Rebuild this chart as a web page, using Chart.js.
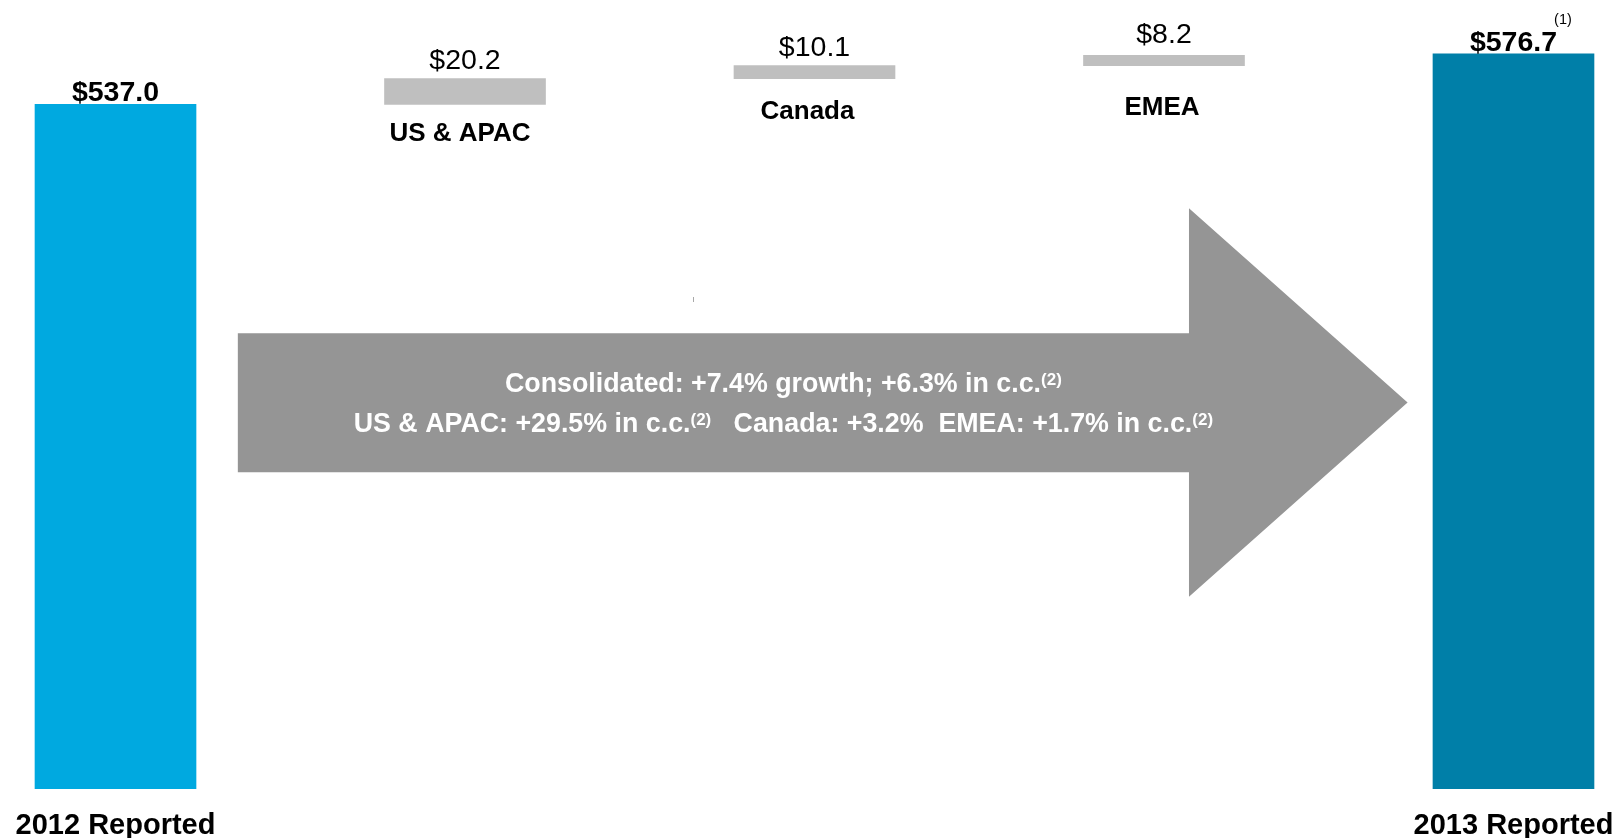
<!DOCTYPE html>
<html>
<head>
<meta charset="utf-8">
<title>Revenue bridge 2012 - 2013</title>
<script src="https://cdn.jsdelivr.net/npm/chart.js@4.4.1/dist/chart.umd.min.js"></script>
<style>
  html, body { margin: 0; padding: 0; background: #fff; }
  #wrap { width: 1619px; height: 838px; }
</style>
</head>
<body>
<div id="wrap"><canvas id="ponte"></canvas></div>
<script>
// Categorias da ponte de receita (milhões de US$)
const categorias = ["2012 Reported", "US & APAC", "Canada", "EMEA", "2013 Reported"];
const valores = [537.0, 20.2, 10.1, 8.2, 576.7];
const tipos = ["total", "passo", "passo", "passo", "total"];
const notaTotalFinal = "(1)";

// Texto dentro da seta: [trecho, sobrescrito?]
const linhaConsolidado = [["Consolidated: +7.4% growth; +6.3% in c.c.", false], ["(2)", true]];
const linhaRegioes = [
  ["US & APAC: +29.5% in c.c.", false], ["(2)", true],
  ["   Canada: +3.2%  EMEA: +1.7% in c.c.", false], ["(2)", true]
];

// Cores
const CORES = ["#00A9E0", "#BFBFBF", "#BFBFBF", "#BFBFBF", "#007FA8"];
const COR_SETA = "#959595";
const FONTE = '"Liberation Sans", Arial, Helvetica, sans-serif';

// Ajustes finos dos rótulos (px)
const folgaValor = [3, 10, 10, 12, 3];
const folgaCategoria = [0, 37, 40, 49, 0];
const deslocCategoria = [0, -5, -7, -2, 0];

// Geometria da seta em unidades dos eixos
const SETA = {
  cauda: 0.35, pescoco: 3.0715, ponta: 3.697,
  hasteTopo: 357.4, hasteBase: 248.4,
  cabecaTopo: 455.4, cabecaBase: 150.8,
  textoX: 1.911
};

// Barras flutuantes: cada passo começa onde o anterior terminou
let acumulado = 0;
const faixas = valores.map((v, i) => {
  if (tipos[i] === "total") { acumulado = v; return [0, v]; }
  const ini = acumulado;
  acumulado = +(acumulado + v).toFixed(1);
  return [ini, acumulado];
});

function desenharLinha(ctx, trechos, cx, base) {
  const fNormal = "bold 26.8px " + FONTE;
  const fSup = "bold 17px " + FONTE;
  let total = 0;
  trechos.forEach(([t, sup]) => {
    ctx.font = sup ? fSup : fNormal;
    total += ctx.measureText(t).width;
  });
  let x = cx - total / 2;
  trechos.forEach(([t, sup]) => {
    ctx.font = sup ? fSup : fNormal;
    ctx.fillText(t, x, sup ? base - 7 : base);
    x += ctx.measureText(t).width;
  });
}

const setaPlugin = {
  id: "seta",
  beforeDatasetsDraw(chart) {
    const { ctx, scales: { x, y } } = chart;
    const px = v => x.getPixelForValue(v);
    const py = v => y.getPixelForValue(v);
    ctx.save();
    ctx.fillStyle = COR_SETA;
    ctx.beginPath();
    ctx.moveTo(px(SETA.cauda), py(SETA.hasteTopo));
    ctx.lineTo(px(SETA.pescoco), py(SETA.hasteTopo));
    ctx.lineTo(px(SETA.pescoco), py(SETA.cabecaTopo));
    ctx.lineTo(px(SETA.ponta), (py(SETA.cabecaTopo) + py(SETA.cabecaBase)) / 2);
    ctx.lineTo(px(SETA.pescoco), py(SETA.cabecaBase));
    ctx.lineTo(px(SETA.pescoco), py(SETA.hasteBase));
    ctx.lineTo(px(SETA.cauda), py(SETA.hasteBase));
    ctx.closePath();
    ctx.fill();

    const cy = (py(SETA.hasteTopo) + py(SETA.hasteBase)) / 2;
    ctx.fillStyle = "#ffffff";
    ctx.textAlign = "left";
    ctx.textBaseline = "alphabetic";
    desenharLinha(ctx, linhaConsolidado, px(SETA.textoX), cy - 10.5);
    desenharLinha(ctx, linhaRegioes, px(SETA.textoX), cy + 29.5);

    // marcador de caixa de texto vazia acima da seta
    ctx.fillStyle = "#a8a8a8";
    ctx.fillRect(693, 297, 1, 5);
    ctx.restore();
  }
};

const rotulosPlugin = {
  id: "rotulos",
  afterDatasetsDraw(chart) {
    const { ctx } = chart;
    const meta = chart.getDatasetMeta(0);
    ctx.save();
    ctx.fillStyle = "#000000";
    ctx.textBaseline = "alphabetic";
    meta.data.forEach((barra, i) => {
      const { x, y, base } = barra.getProps(["x", "y", "base"], true);
      const topo = Math.min(y, base);
      const fundo = Math.max(y, base);
      const texto = "$" + valores[i].toFixed(1);
      const ehTotal = tipos[i] === "total";

      ctx.textAlign = "center";
      ctx.font = (ehTotal ? "bold " : "") + "28.5px " + FONTE;
      ctx.fillText(texto, x, topo - folgaValor[i]);

      if (ehTotal) {
        if (i === valores.length - 1) {
          const w = ctx.measureText(texto).width;
          ctx.textAlign = "left";
          ctx.font = "14.5px " + FONTE;
          ctx.fillText(notaTotalFinal, x + w / 2 - 3, topo - 30);
          ctx.textAlign = "center";
        }
        ctx.font = "bold 29px " + FONTE;
        ctx.fillText(categorias[i], x, chart.chartArea.bottom + 45);
      } else {
        ctx.font = "bold 26px " + FONTE;
        ctx.fillText(categorias[i], x + deslocCategoria[i], fundo + folgaCategoria[i]);
      }
    });
    ctx.restore();
  }
};

new Chart(document.getElementById("ponte").getContext("2d"), {
  type: "bar",
  data: {
    datasets: [{
      label: "Revenue",
      data: faixas.map((f, i) => ({ x: i, y: f })),
      backgroundColor: CORES,
      borderWidth: 0,
      barThickness: 161
    }]
  },
  options: {
    responsive: true,
    maintainAspectRatio: false,
    animation: false,
    layout: { padding: { top: 24, bottom: 49, left: 0, right: 0 } },
    plugins: { legend: { display: false }, tooltip: { enabled: false } },
    scales: {
      x: { type: "linear", min: -0.3305, max: 4.3019, offset: false, display: false },
      y: { min: 0, max: 600, display: false }
    }
  },
  plugins: [setaPlugin, rotulosPlugin]
});
</script>
</body>
</html>
